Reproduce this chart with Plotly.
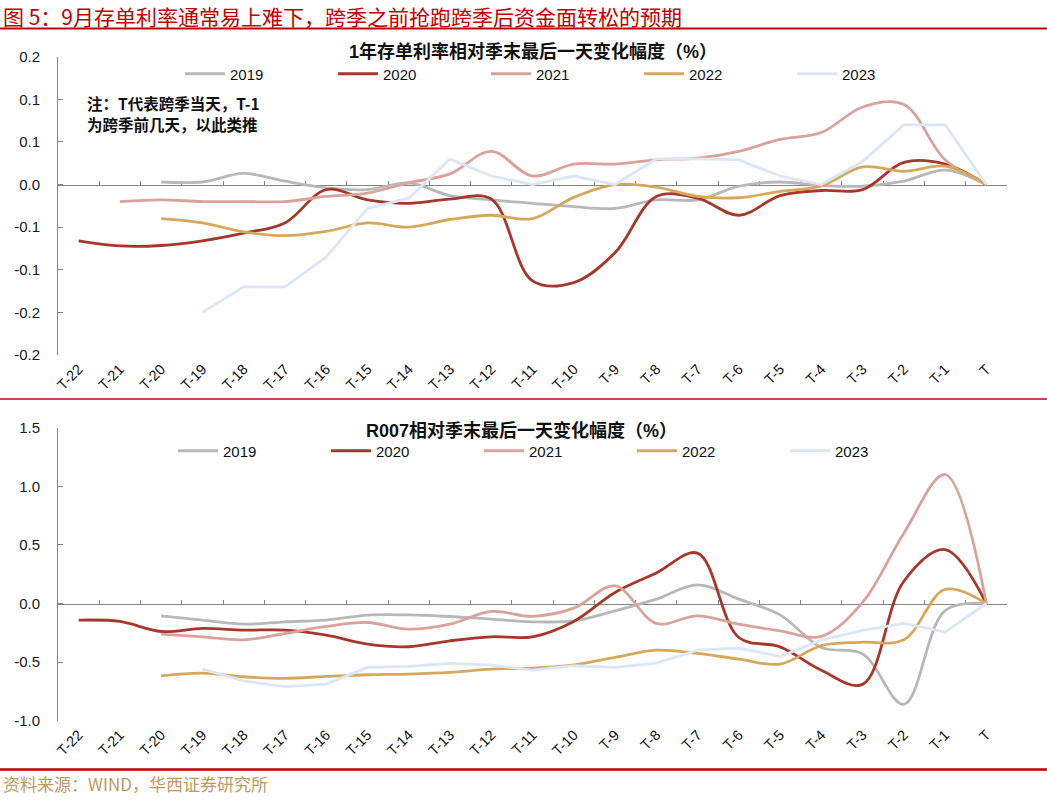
import plotly.graph_objects as go

W, H = 1047, 802

categories = ["T-22", "T-21", "T-20", "T-19", "T-18", "T-17", "T-16", "T-15", "T-14", "T-13", "T-12",
              "T-11", "T-10", "T-9", "T-8", "T-7", "T-6", "T-5", "T-4", "T-3", "T-2", "T-1", "T"]
years = ["2019", "2020", "2021", "2022", "2023"]

# 1年存单利率相对季末最后一天变化幅度（%）
cd_2019 = [None, None, 0.003, 0.003, 0.013, 0.004, -0.004, -0.006, 0.002, -0.013, -0.018, -0.022,
           -0.026, -0.028, -0.018, -0.018, -0.002, 0.003, -0.001, -0.002, 0.004, 0.017, 0.0]
cd_2020 = [-0.066, -0.072, -0.0715, -0.066, -0.057, -0.045, -0.006, -0.018, -0.022, -0.017, -0.017,
           -0.113, -0.115, -0.080, -0.014, -0.016, -0.036, -0.013, -0.007, -0.006, 0.026, 0.024, 0.0]
cd_2021 = [None, -0.020, -0.018, -0.020, -0.020, -0.020, -0.014, -0.010, 0.002, 0.0125, 0.039, 0.010,
           0.024, 0.024, 0.029, 0.031, 0.039, 0.053, 0.061, 0.091, 0.094, 0.029, 0.0]
cd_2022 = [None, None, -0.040, -0.045, -0.0555, -0.060, -0.055, -0.045, -0.050, -0.041, -0.036, -0.040,
           -0.015, 0.0, -0.003, -0.014, -0.0155, -0.008, -0.0015, 0.0207, 0.0156, 0.0215, 0.0]
cd_2023 = [None, None, None, -0.150, -0.120, -0.120, -0.085, -0.028, -0.016, 0.030, 0.010, 0.0,
           0.010, 0.0, 0.030, 0.030, 0.029, 0.010, 0.0, 0.027, 0.070, 0.070, 0.0]

# R007相对季末最后一天变化幅度（%）
r_2019 = [None, None, -0.105, -0.142, -0.176, -0.156, -0.142, -0.099, -0.097, -0.111, -0.134, -0.156,
          -0.148, -0.0625, 0.037, 0.159, 0.037, -0.097, -0.375, -0.43, -0.86, -0.06, 0.0]
r_2020 = [-0.142, -0.153, -0.239, -0.213, -0.227, -0.227, -0.27, -0.347, -0.369, -0.318, -0.284, -0.284,
          -0.153, 0.094, 0.26, 0.43, -0.29, -0.37, -0.57, -0.69, 0.19, 0.46, 0.0]
r_2021 = [None, None, -0.261, -0.284, -0.31, -0.256, -0.196, -0.162, -0.219, -0.176, -0.068, -0.11,
          -0.04, 0.15, -0.17, -0.105, -0.176, -0.233, -0.28, 0.01, 0.60, 1.10, 0.0]
r_2022 = [None, None, -0.617, -0.594, -0.625, -0.639, -0.622, -0.608, -0.602, -0.588, -0.56, -0.551,
          -0.523, -0.46, -0.398, -0.426, -0.474, -0.517, -0.36, -0.33, -0.31, 0.12, 0.0]
r_2023 = [None, None, None, -0.56, -0.66, -0.71, -0.688, -0.545, -0.537, -0.511, -0.526, -0.568,
          -0.531, -0.545, -0.509, -0.398, -0.381, -0.452, -0.312, -0.23, -0.17, -0.244, 0.0]

top_tickvals = [0.15, 0.1, 0.05, 0.0, -0.05, -0.1, -0.15, -0.2]
top_ticktext = ["0.2", "0.1", "0.1", "0.0", "-0.1", "-0.1", "-0.2", "-0.2"]
bot_tickvals = [1.5, 1.0, 0.5, 0.0, -0.5, -1.0]
bot_ticktext = ["1.5", "1.0", "0.5", "0.0", "-0.5", "-1.0"]

colors = ["#B8B8B8", "#A8372B", "#D9A29B", "#D6A85C", "#DCE6F4"]
shapes_line = ["spline", "spline", "spline", "spline", "linear"]

top_title = "1年存单利率相对季末最后一天变化幅度（%）"
bot_title = "R007相对季末最后一天变化幅度（%）"
header = "图 5：9月存单利率通常易上难下，跨季之前抢跑跨季后资金面转松的预期"
source = "资料来源：WIND，华西证券研究所"
note1 = "注：T代表跨季当天，T-1"
note2 = "为跨季前几天，以此类推"

FONT = "Liberation Sans, Arial, Noto Sans CJK SC, sans-serif"
CJK = "Noto Sans CJK SC, sans-serif"
AX = "#858585"

def px_x(p):
    return p / W

def px_y(p):
    return 1 - p / H

x_dom = [px_x(58), px_x(1007)]
top_rng = [-0.2, 0.15]
bot_rng = [-1.0, 1.5]
top_dom = [px_y(355), px_y(56.7)]
bot_dom = [px_y(720.7), px_y(427.7)]

def zero_pos(dom, rng):
    return dom[0] + (0 - rng[0]) / (rng[1] - rng[0]) * (dom[1] - dom[0])

fig = go.Figure()

top_series = [cd_2019, cd_2020, cd_2021, cd_2022, cd_2023]
bot_series = [r_2019, r_2020, r_2021, r_2022, r_2023]

for name, vals, c, sh in zip(years, top_series, colors, shapes_line):
    fig.add_trace(go.Scatter(x=categories, y=vals, name=name, mode="lines",
                             line=dict(color=c, width=2.8, shape=sh, smoothing=1.0),
                             xaxis="x", yaxis="y", legend="legend", connectgaps=False))
for name, vals, c, sh in zip(years, bot_series, colors, shapes_line):
    fig.add_trace(go.Scatter(x=categories, y=vals, name=name, mode="lines",
                             line=dict(color=c, width=2.8, shape=sh, smoothing=1.0),
                             xaxis="x2", yaxis="y2", legend="legend2", connectgaps=False))

# invisible carriers for the label axes
fig.add_trace(go.Scatter(x=categories, y=[0] * len(categories), mode="lines", opacity=0,
                         showlegend=False, hoverinfo="skip", xaxis="x3", yaxis="y"))
fig.add_trace(go.Scatter(x=categories, y=[0] * len(categories), mode="lines", opacity=0,
                         showlegend=False, hoverinfo="skip", xaxis="x4", yaxis="y2"))

zero_axis = dict(type="category", categoryorder="array", categoryarray=categories,
                 range=[-0.5, len(categories) - 0.5], domain=x_dom, anchor="free",
                 tickson="boundaries", ticks="inside", ticklen=4, tickcolor=AX, tickwidth=1,
                 showline=True, linecolor=AX, linewidth=1, showticklabels=False,
                 showgrid=False, zeroline=False, layer="below traces")
label_axis = dict(type="category", categoryorder="array", categoryarray=categories,
                  range=[-0.5, len(categories) - 0.5], side="bottom",
                  showline=False, ticks="", showgrid=False, zeroline=False,
                  tickangle=-45, tickfont=dict(family=FONT, size=14.5, color="#111111"),
                  ticklabelstandoff=2)
y_common = dict(showline=True, linecolor=AX, linewidth=1, ticks="inside", ticklen=5,
                tickcolor=AX, showgrid=False, zeroline=False, anchor="x",
                tickfont=dict(family=FONT, size=15, color="#1a1a1a"), ticklabelstandoff=14)

fig.update_layout(
    width=W, height=H, margin=dict(l=0, r=0, t=0, b=0, pad=0, autoexpand=False),
    paper_bgcolor="white", plot_bgcolor="white",
    xaxis=dict(zero_axis, position=zero_pos(top_dom, top_rng)),
    xaxis2=dict(zero_axis, position=zero_pos(bot_dom, bot_rng)),
    xaxis3=dict(label_axis, overlaying="x", anchor="y"),
    xaxis4=dict(label_axis, overlaying="x2", anchor="y2"),
    yaxis=dict(y_common, domain=top_dom, range=top_rng, tickmode="array",
               tickvals=top_tickvals, ticktext=top_ticktext, anchor="x"),
    yaxis2=dict(y_common, domain=bot_dom, range=bot_rng, tickmode="array",
                tickvals=bot_tickvals, ticktext=bot_ticktext, anchor="x2"),
    legend=dict(orientation="h", x=px_x(180), y=px_y(74), xanchor="left", yanchor="middle",
                font=dict(family=FONT, size=15, color="#111111"), bgcolor="rgba(0,0,0,0)",
                entrywidth=98, entrywidthmode="pixels", itemwidth=40),
    legend2=dict(orientation="h", x=px_x(173), y=px_y(451), xanchor="left", yanchor="middle",
                 font=dict(family=FONT, size=15, color="#111111"), bgcolor="rgba(0,0,0,0)",
                 entrywidth=98, entrywidthmode="pixels", itemwidth=40),
    showlegend=True,
)

annotations = [
    dict(text=f"<b>{top_title}</b>", x=px_x(533), y=px_y(52), font=dict(family=FONT, size=18, color="#111111")),
    dict(text=f"<b>{bot_title}</b>", x=px_x(521), y=px_y(430), font=dict(family=FONT, size=18, color="#111111")),
    dict(text=f"<b>{note1}</b>", x=px_x(86), y=px_y(103), xanchor="left", font=dict(family=CJK, size=15.5, color="#111111")),
    dict(text=f"<b>{note2}</b>", x=px_x(86), y=px_y(124), xanchor="left", font=dict(family=CJK, size=15.5, color="#111111")),
    dict(text=header, x=px_x(2), y=px_y(0), xanchor="left", yanchor="top", font=dict(family=CJK, size=21, color="#C00000")),
    dict(text=source, x=px_x(2), y=px_y(783), xanchor="left", font=dict(family=CJK, size=17, color="#BE9A62")),
]
for a in annotations:
    a.setdefault("xanchor", "center")
    a.setdefault("yanchor", "middle")
    fig.add_annotation(xref="paper", yref="paper", showarrow=False, borderpad=0, **a)

fig.add_shape(type="line", xref="paper", yref="paper", x0=0, x1=1, y0=px_y(28.5), y1=px_y(28.5),
              line=dict(color="#C00000", width=2))
fig.add_shape(type="line", xref="paper", yref="paper", x0=0, x1=1, y0=px_y(399), y1=px_y(399),
              line=dict(color="#A01010", width=1.5))
fig.add_shape(type="line", xref="paper", yref="paper", x0=0, x1=1, y0=px_y(769.5), y1=px_y(769.5),
              line=dict(color="#C00000", width=2.5))

fig.write_html("out.html", config={"displayModeBar": False},
               post_script="document.body.style.margin='0px';document.body.style.overflow='hidden';")
